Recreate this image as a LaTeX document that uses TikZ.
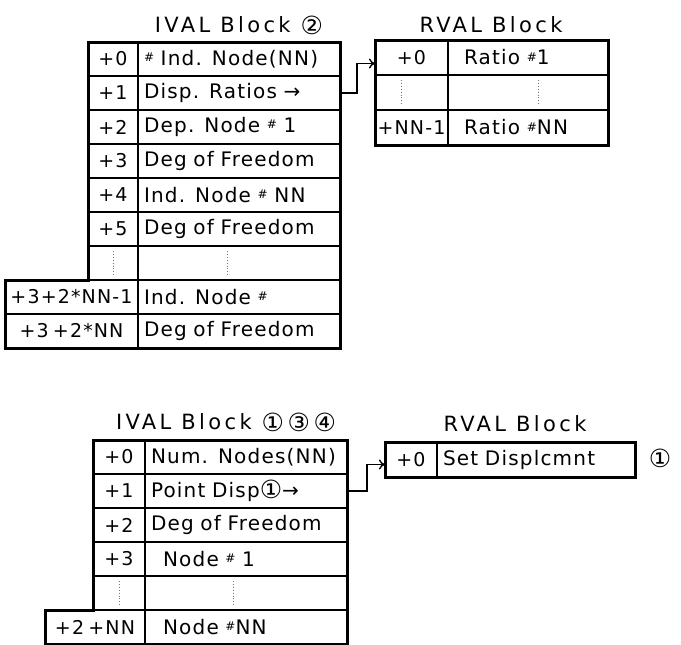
\documentclass[tikz,border=0pt]{standalone}
\usepackage{fontspec}
\setmainfont{DejaVu Sans}[LetterSpace=6,WordSpace=0.6]
\newfontfamily\ttlfont{DejaVu Sans}[LetterSpace=16]
\usetikzlibrary{arrows.meta}
\newcommand{\cellfont}{\fontsize{20}{24}\selectfont}
\newcommand{\idxfont}{\fontsize{19}{22}\selectfont}
\newcommand{\ttlsize}{\ttlfont\fontsize{21}{24}\selectfont}
\newcommand{\hsh}{\raisebox{.35ex}{\fontsize{12}{12}\selectfont\#}}
\newcommand{\circd}[1]{\raisebox{-1.5pt}{\fontsize{25}{25}\selectfont #1}}
\tikzset{
  idx/.style={draw,line width=1.4pt,minimum height=34pt,inner sep=0pt,outer sep=0pt,font=\idxfont},
  fld/.style={draw,line width=1.4pt,minimum height=34pt,inner xsep=6pt,inner ysep=0pt,outer sep=0pt,
    text width=#1,align=left,font=\cellfont},
  outline/.style={draw,line width=3pt,line join=miter},
  ttl/.style={font=\ttlsize,inner sep=0pt},
  link/.style={draw,line width=1.4pt,-{To[length=6pt,width=10pt]}},
}
\tikzset{ellip/.style={draw,dotted,line width=0.9pt,black!55,shorten <=5pt,shorten >=5pt}}

\begin{document}
\begin{tikzpicture}[x=1pt,y=-1pt]
\useasboundingbox (0,0) rectangle (681,645);
% upper IVAL block
\node[ttl](ivalA) at (239,25){IVAL Block \circd{②}};
\node[idx,minimum width=50pt](ia0) at (113,59){+0};\node[fld=190pt](va0) at (239,59){\hsh\ Ind. Node(NN)};
\node[idx,minimum width=50pt](ia1) at (113,93){+1};\node[fld=190pt](va1) at (239,93){Disp. Ratios →};
\node[idx,minimum width=50pt](ia2) at (113,127){+2};\node[fld=190pt](va2) at (239,127){Dep. Node \hsh\ 1};
\node[idx,minimum width=50pt](ia3) at (113,161){+3};\node[fld=190pt](va3) at (239,161){Deg of Freedom};
\node[idx,minimum width=50pt](ia4) at (113,195){+4};\node[fld=190pt](va4) at (239,195){Ind. Node \hsh\ NN};
\node[idx,minimum width=50pt](ia5) at (113,229){+5};\node[fld=190pt](va5) at (239,229){Deg of Freedom};
\node[idx,minimum width=50pt](ia6) at (113,263){};\node[fld=190pt](va6) at (239,263){};
\node[idx,minimum width=133pt](ia7) at (71.5,297){+3+2*NN-1};\node[fld=190pt](va7) at (239,297){Ind. Node \hsh};
\node[idx,minimum width=133pt](ia8) at (71.5,331){+3 +2*NN};\node[fld=190pt](va8) at (239,331){Deg of Freedom};
\draw[ellip] (ia6.north) -- (ia6.south);\draw[ellip] ([xshift=-12pt]va6.north) -- ([xshift=-12pt]va6.south);
\draw[outline] (ia0.north west) -- (va0.north east) -- (va8.south east) -- (ia8.south west) -- (ia7.north west) -- (ia6.south west) -- cycle;
% upper RVAL block
\node[ttl](rvalA) at (491,25){RVAL Block};
\node[idx,minimum width=73pt,minimum height=35pt](ra0) at (411.5,57.5){+0};\node[fld=148pt,minimum height=35pt](wa0) at (528,57.5){\hspace{10pt}Ratio \hsh1};
\node[idx,minimum width=73pt,minimum height=35pt](ra1) at (411.5,92.5){};\node[fld=148pt,minimum height=35pt](wa1) at (528,92.5){};
\node[idx,minimum width=73pt,minimum height=35pt](ra2) at (411.5,127.5){+NN-1};\node[fld=148pt,minimum height=35pt](wa2) at (528,127.5){\hspace{10pt}Ratio \hsh NN};
\draw[ellip] ([xshift=-10pt]ra1.north) -- ([xshift=-10pt]ra1.south);\draw[ellip] ([xshift=10pt]wa1.north) -- ([xshift=10pt]wa1.south);
\draw[outline] (ra0.north west) rectangle (wa2.south east);
\draw[link] (va1.east) -- ++(17,0) |- ([yshift=-6pt]ra0.west);
% lower IVAL block
\node[ttl](ivalB) at (226,422){IVAL Block \circd{①}\,\circd{③}\,\circd{④}};
\node[idx,minimum width=52pt](ib0) at (119,457){+0};\node[fld=190pt](vb0) at (246,457){Num. Nodes(NN)};
\node[idx,minimum width=52pt](ib1) at (119,491){+1};\node[fld=190pt](vb1) at (246,491){Point Disp\circd{①}→};
\node[idx,minimum width=52pt](ib2) at (119,525){+2};\node[fld=190pt](vb2) at (246,525){Deg of Freedom};
\node[idx,minimum width=52pt](ib3) at (119,559){+3};\node[fld=190pt](vb3) at (246,559){\hspace{12pt}Node \hsh\ 1};
\node[idx,minimum width=52pt](ib4) at (119,593){};\node[fld=190pt](vb4) at (246,593){};
\node[idx,minimum width=100pt](ib5) at (95,627){+2 +NN};\node[fld=190pt](vb5) at (246,627){\hspace{12pt}Node \hsh NN};
\draw[ellip] (ib4.north) -- (ib4.south);\draw[ellip] ([xshift=-13pt]vb4.north) -- ([xshift=-13pt]vb4.south);
\draw[outline] (ib0.north west) -- (vb0.north east) -- (vb5.south east) -- (ib5.south west) -- (ib5.north west) -- (ib4.south west) -- cycle;
% lower RVAL block
\node[ttl](rvalB) at (515,424){RVAL Block};
\node[idx,minimum width=52pt,minimum height=35pt](rb0) at (411,459.5){+0};\node[fld=186pt,minimum height=35pt](wb0) at (536,459.5){Set Displcmnt};
\draw[outline] (rb0.north west) rectangle (wb0.south east);
\node[ttl](noteB) at (660,458){\circd{①}};
\draw[link] (vb1.east) -- ++(20,0) |- ([yshift=-5pt]rb0.west);
\end{tikzpicture}
\end{document}
